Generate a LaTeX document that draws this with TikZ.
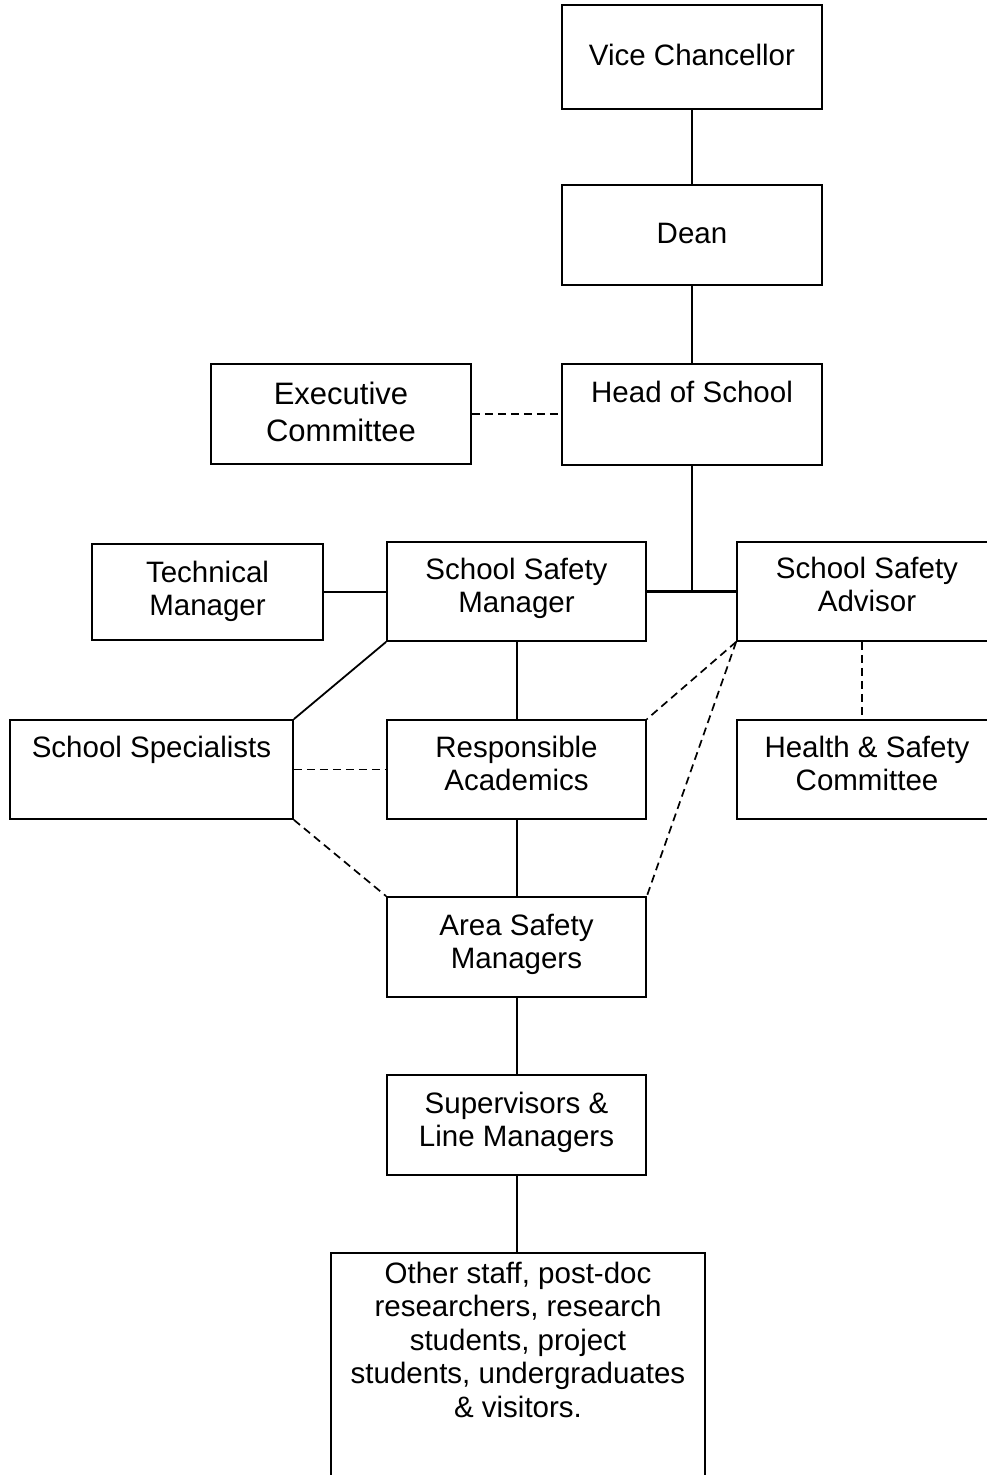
\documentclass[tikz,border=0pt]{standalone}
\usepackage{fontspec}
\setmainfont{Liberation Sans}
\begin{document}
\begin{tikzpicture}[x=1pt,y=-1pt,
  box/.style={draw, line width=1.7pt, rectangle, inner sep=0pt},
  txt/.style={align=center, anchor=base, inner sep=0pt, font=\fontsize{29.5}{33.6}\selectfont},
  bigtxt/.style={align=center, anchor=base, inner sep=0pt, font=\fontsize{31}{37}\selectfont},
  link/.style={line width=1.8pt},
  dlink/.style={line width=1.7pt, dash pattern=on 8pt off 5pt}]
\useasboundingbox (0,0) rectangle (987,1475);
\clip (0,0) rectangle (987,1475);

% boxes
\node[box, minimum width=260, minimum height=104] (vc)   at (692,57)    {};
\node[box, minimum width=260, minimum height=100] (dean) at (692,235)   {};
\node[box, minimum width=260, minimum height=101] (hos)  at (692,414.5) {};
\node[box, minimum width=260, minimum height=100] (exec) at (341,414)   {};
\node[box, minimum width=231, minimum height=96]  (tm)   at (207.5,592) {};
\node[box, minimum width=259, minimum height=99]  (ssm)  at (516.5,591.5) {};
\node[box, minimum width=260, minimum height=99]  (ssa)  at (867,591.5) {};
\node[box, minimum width=283, minimum height=99]  (ss)   at (151.5,769.5) {};
\node[box, minimum width=259, minimum height=99]  (ra)   at (516.5,769.5) {};
\node[box, minimum width=260, minimum height=99]  (hs)   at (867,769.5) {};
\node[box, minimum width=259, minimum height=100] (asm)  at (516.5,947) {};
\node[box, minimum width=259, minimum height=100] (sup)  at (516.5,1125) {};
\node[box, minimum width=374, minimum height=242] (oth)  at (518,1374)  {};

% labels (base anchor = baseline of the last line)
\node[txt]    (vc-t)   at (692,65)    {Vice Chancellor};
\node[txt]    (dean-t) at (692,243)   {Dean};
\node[txt]    (hos-t)  at (692,402)   {Head of School};
\node[bigtxt] (exec-t) at (341,441)   {Executive\\Committee};
\node[txt]    (tm-t)   at (207.5,615.6) {Technical\\Manager};
\node[txt]    (ssm-t)  at (516.5,612.6) {School Safety\\Manager};
\node[txt]    (ssa-t)  at (867,611.6)   {School Safety\\Advisor};
\node[txt]    (ss-t)   at (151.5,757) {School Specialists};
\node[txt]    (ra-t)   at (516.5,790.6) {Responsible\\Academics};
\node[txt]    (hs-t)   at (867,790.6)   {Health \& Safety\\Committee};
\node[txt]    (asm-t)  at (516.5,968.6) {Area Safety\\Managers};
\node[txt]    (sup-t)  at (516.5,1146.6) {Supervisors \&\\Line Managers};
\node[txt]    (oth-t)  at (518,1417.4)  {Other staff, post-doc\\researchers, research\\students, project\\students, undergraduates\\\& visitors.};

% solid reporting lines
\draw[link] (vc.south) -- (dean.north);
\draw[link] (dean.south) -- (hos.north);
\coordinate (jn) at (hos.south |- ssa.west);
\draw[link] (hos.south) -- (jn);
\draw[line width=2.6pt] (ssm.east) -- (ssa.west);
\draw[link] (tm.east) -- (tm.east -| ssm.west);
\draw[link] (ssm.south west) -- (ss.north east);
\draw[link] ([xshift=0.5pt]ssm.south) -- ([xshift=0.5pt]ra.north);
\draw[link] ([xshift=0.5pt]ra.south) -- ([xshift=0.5pt]asm.north);
\draw[link] ([xshift=0.5pt]asm.south) -- ([xshift=0.5pt]sup.north);
\draw[link] ([xshift=0.5pt]sup.south) -- ([xshift=0.5pt]sup.south |- oth.north);

% dashed advisory lines
\draw[dlink] (exec.east) -- (exec.east -| hos.west);
\draw[dlink] (ss.east) -- (ra.west);
\draw[dlink] (ss.south east) -- (asm.north west);
\draw[dlink] (ssa.south west) -- (ra.north east);
\draw[dlink] (ssa.south west) -- (asm.north east);
\draw[dlink] ([xshift=-5pt]ssa.south) -- ([xshift=-5pt]hs.north);
\end{tikzpicture}
\end{document}
